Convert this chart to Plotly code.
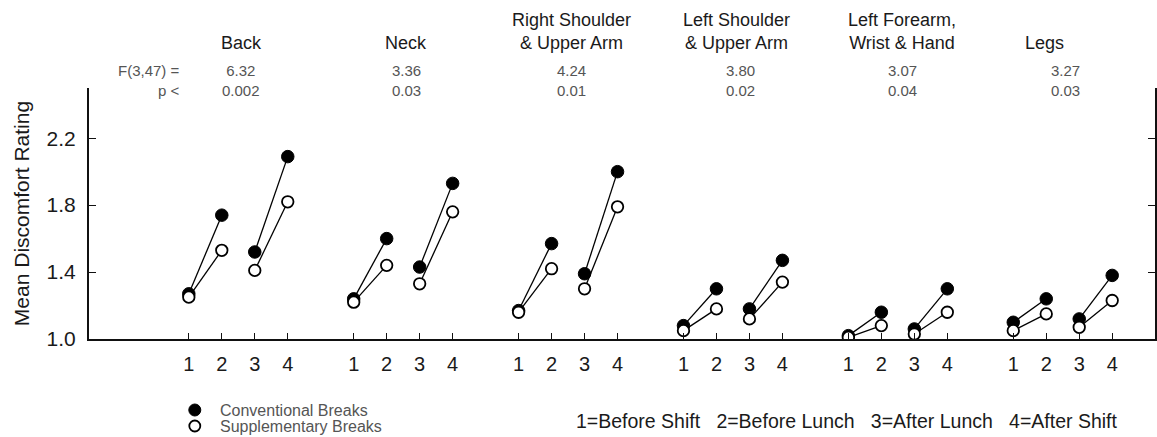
import plotly.graph_objects as go

# ---------------- data ----------------
title_line1 = ["", "", "Right Shoulder", "Left Shoulder", "Left Forearm,", ""]
title_line2 = ["Back", "Neck", "& Upper Arm", "& Upper Arm", "Wrist & Hand", "Legs"]
f_values = ["6.32", "3.36", "4.24", "3.80", "3.07", "3.27"]
p_values = ["0.002", "0.03", "0.01", "0.02", "0.04", "0.03"]
time_labels = ["1", "2", "3", "4"]

conventional = [
    [1.27, 1.74, 1.52, 2.09],   # Back
    [1.24, 1.60, 1.43, 1.93],   # Neck
    [1.17, 1.57, 1.39, 2.00],   # Right Shoulder & Upper Arm
    [1.08, 1.30, 1.18, 1.47],   # Left Shoulder & Upper Arm
    [1.02, 1.16, 1.06, 1.30],   # Left Forearm, Wrist & Hand
    [1.10, 1.24, 1.12, 1.38],   # Legs
]
supplementary = [
    [1.25, 1.53, 1.41, 1.82],
    [1.22, 1.44, 1.33, 1.76],
    [1.16, 1.42, 1.30, 1.79],
    [1.05, 1.18, 1.12, 1.34],
    [1.01, 1.08, 1.03, 1.16],
    [1.05, 1.15, 1.07, 1.23],
]
series_names = ["Conventional Breaks", "Supplementary Breaks"]
key_text = "1=Before Shift   2=Before Lunch   3=After Lunch   4=After Shift"

# ---------------- layout helpers ----------------
FONT = "Liberation Sans, Arial, Helvetica, sans-serif"
GROUP_STRIDE = 5
W, H = 1157, 437
ML, MR, MT, MB = 89, 0, 88, 98
PW = W - ML - MR
PH = H - MT - MB


def xpos(g, t):
    return GROUP_STRIDE * g + t + 1


def px_to_paper_x(px):
    return (px - ML) / PW


def py_to_paper_y(py):
    return (H - MB - py) / PH


def build_segments(values):
    xs, ys = [], []
    for g, vals in enumerate(values):
        for pair in ((0, 1), (2, 3)):
            for t in pair:
                xs.append(xpos(g, t))
                ys.append(vals[t])
            xs.append(None)
            ys.append(None)
    return xs, ys


def build_points(values):
    xs, ys = [], []
    for g, vals in enumerate(values):
        for t, v in enumerate(vals):
            xs.append(xpos(g, t))
            ys.append(v)
    return xs, ys


fig = go.Figure()

styles = [
    dict(color="black", size=12.5, line=dict(color="black", width=1)),
    dict(color="white", size=11.5, line=dict(color="black", width=1.8)),
]
for i, (vals, name) in enumerate([(conventional, series_names[0]),
                                  (supplementary, series_names[1])]):
    lx, ly = build_segments(vals)
    fig.add_trace(go.Scatter(x=lx, y=ly, mode="lines",
                             line=dict(color="black", width=1.3),
                             showlegend=False, hoverinfo="skip"))
    mx, my = build_points(vals)
    fig.add_trace(go.Scatter(x=mx, y=my, mode="markers", name=name,
                             marker=dict(symbol="circle", **styles[i]),
                             showlegend=False))

tickvals = [xpos(g, t) for g in range(len(title_line2)) for t in range(4)]
ticktext = [time_labels[t] for g in range(len(title_line2)) for t in range(4)]

x0 = xpos(0, 0) - (189 - ML) / 33.04
x1 = x0 + PW / 33.04

annotations = []
shapes = []
title_shift = [3, 3, 3, 4, 4, -18]
val_shift = [3, 3, 3, 8, 5, 3]
TITLE_FONT = dict(size=18, color="#1a1a1a", family=FONT)
VAL_FONT = dict(size=15, color="#555555", family=FONT)
for g in range(len(title_line2)):
    cx = xpos(g, 1.5)
    if title_line1[g]:
        txt = title_line1[g] + "<br>" + title_line2[g]
        ty = 32
    else:
        txt = title_line2[g]
        ty = 43
    annotations.append(dict(x=cx, xref="x", y=py_to_paper_y(ty), yref="paper",
                            text=txt, showarrow=False, xshift=title_shift[g],
                            yanchor="middle", align="center", font=TITLE_FONT))
    annotations.append(dict(x=cx, xref="x", y=py_to_paper_y(80.5), yref="paper",
                            text=f_values[g] + "<br>" + p_values[g], showarrow=False,
                            xshift=val_shift[g], yanchor="middle", align="center",
                            font=VAL_FONT))

annotations.append(dict(x=px_to_paper_x(182), xref="paper", y=py_to_paper_y(80.5), yref="paper",
                        text="F(3,47) =<br>p <", showarrow=False, xanchor="right",
                        yanchor="middle", align="right", font=VAL_FONT))
annotations.append(dict(x=px_to_paper_x(21), xref="paper", y=py_to_paper_y(214), yref="paper",
                        text="Mean Discomfort Rating", textangle=-90, showarrow=False,
                        xanchor="center", yanchor="middle",
                        font=dict(size=21, color="#1a1a1a", family=FONT)))
annotations.append(dict(x=px_to_paper_x(848), xref="paper", y=py_to_paper_y(421), yref="paper",
                        text=key_text.replace(" ", "&nbsp;"), showarrow=False,
                        xanchor="center", yanchor="middle",
                        font=dict(size=19.5, color="#1a1a1a", family=FONT)))

# legend key (drawn as layout shapes + text)
key_rows = [410, 426]
key_fill = ["black", "white"]
key_diam = [12, 11]
key_line = [1, 1.8]
for i, name in enumerate(series_names):
    r = key_diam[i] / 2
    shapes.append(dict(type="circle", xref="paper", yref="paper",
                       xsizemode="pixel", ysizemode="pixel",
                       xanchor=px_to_paper_x(195), yanchor=py_to_paper_y(key_rows[i]),
                       x0=-r, x1=r, y0=-r, y1=r,
                       fillcolor=key_fill[i], line=dict(color="black", width=key_line[i])))
    annotations.append(dict(x=px_to_paper_x(218), xref="paper",
                            y=py_to_paper_y(key_rows[i]), yref="paper",
                            text=name, showarrow=False, xanchor="left", yanchor="middle",
                            font=dict(size=16, color="#555555", family=FONT)))

fig.update_layout(
    width=W, height=H,
    margin=dict(l=ML, r=MR, t=MT, b=MB),
    paper_bgcolor="white", plot_bgcolor="white",
    font=dict(family=FONT, color="#1a1a1a"),
    xaxis=dict(range=[x0, x1], tickmode="array", tickvals=tickvals, ticktext=ticktext,
               showgrid=False, zeroline=False, showline=True, linecolor="#111111",
               linewidth=2, ticks="inside", ticklen=6, tickwidth=1.2, tickcolor="#111111",
               ticklabelstandoff=6,
               tickfont=dict(size=20, color="#1a1a1a", family=FONT)),
    yaxis=dict(range=[1.0, 2.5], tickmode="array", tickvals=[1.0, 1.4, 1.8, 2.2],
               ticktext=["1.0", "1.4", "1.8", "2.2"], showgrid=False, zeroline=False,
               showline=True, linecolor="#111111", linewidth=2, mirror="ticks",
               ticks="inside", ticklen=7, tickwidth=1.2, tickcolor="#111111",
               ticklabelstandoff=7,
               tickfont=dict(size=21, color="#1a1a1a", family=FONT)),
    annotations=annotations,
    shapes=shapes,
    showlegend=False,
)

fig.write_html("out.html",
               config={"displayModeBar": False},
               post_script="document.body.style.margin='0px';"
                           "document.body.style.overflow='hidden';")
